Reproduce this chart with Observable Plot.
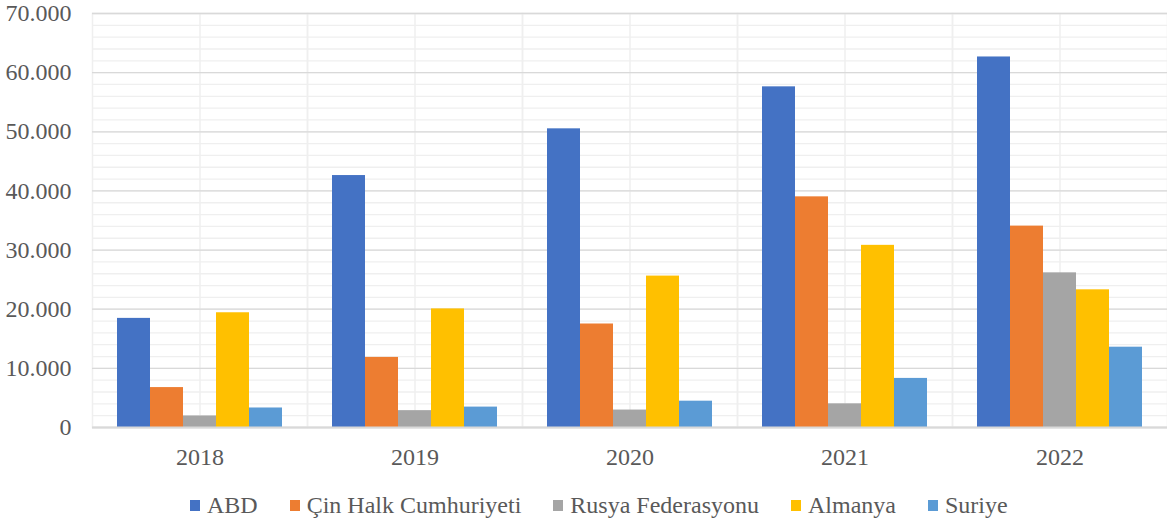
<!DOCTYPE html>
<html>
<head>
<meta charset="utf-8">
<script src="https://cdn.jsdelivr.net/npm/d3@7"></script>
<script src="https://cdn.jsdelivr.net/npm/@observablehq/plot@0.6"></script>
<style>
  html, body { margin: 0; padding: 0; background: #fff; }
  body { width: 1167px; height: 527px; overflow: hidden; font-family: "Liberation Serif", "Times New Roman", serif; }
  #legend { display: flex; align-items: center; height: 47px; padding-left: 190px; padding-top: 4px; box-sizing: border-box; font-size: 24px; color: #595959; }
  .item { display: flex; align-items: center; margin-right: 32px; }
  .sw { width: 10px; height: 11px; margin-right: 7px; }
</style>
</head>
<body>
<div id="chart"></div>
<div id="legend"></div>
<script>
const years = ["2018", "2019", "2020", "2021", "2022"];
const series = ["ABD", "Çin Halk Cumhuriyeti", "Rusya Federasyonu", "Almanya", "Suriye"];
const colors = ["#4472C4", "#ED7D31", "#A5A5A5", "#FFC000", "#5B9BD5"];
const abd = [18450, 42600, 50500, 57600, 62650];
const cin = [6750, 11850, 17500, 39000, 34050];
const rusya = [1950, 2850, 2950, 4000, 26150];
const almanya = [19400, 20050, 25600, 30800, 23280];
const suriye = [3300, 3450, 4450, 8300, 13580];
const yTicks = [0, 10000, 20000, 30000, 40000, 50000, 60000, 70000];
const yMinor = d3.range(0, 70001, 2000);

const valuesBySeries = [abd, cin, rusya, almanya, suriye];
const rows = [];
years.forEach((yr, i) => {
  series.forEach((s, j) => rows.push({year: yr, series: s, value: valuesBySeries[j][i]}));
});

const fmt = d3.formatLocale({decimal: ",", thousands: ".", grouping: [3], currency: ["", ""]}).format(",");

const chart = Plot.plot({
  width: 1167,
  height: 480,
  marginTop: 13,
  marginLeft: 92,
  marginRight: 0,
  marginBottom: 53,
  style: {fontFamily: "'Liberation Serif', 'Times New Roman', serif", fontSize: "24px", color: "#595959", background: "#fff"},
  fx: {domain: years, paddingInner: 0, paddingOuter: 0, axis: "bottom", tickSize: 0, tickPadding: 20, label: null},
  x: {domain: series, paddingInner: 0, paddingOuter: 0.72, axis: null},
  y: {domain: [0, 70000], ticks: yTicks, tickFormat: fmt, tickSize: 0, tickPadding: 21, label: null},
  color: {domain: series, range: colors},
  marks: [
    Plot.ruleY(yMinor, {stroke: "#efefef", strokeWidth: 1.3}),
    Plot.frame({stroke: "#efefef", strokeWidth: 1.5}),
    Plot.ruleX([series[Math.floor(series.length / 2)]], {stroke: "#efefef", strokeWidth: 1.5}),
    Plot.ruleY(yTicks, {stroke: "#d9d9d9", strokeWidth: 1.3}),
    Plot.barY(rows, {fx: "year", x: "series", y: "value", fill: "series"}),
    Plot.ruleY([0], {stroke: "#d9d9d9", strokeWidth: 2})
  ]
});
document.getElementById("chart").appendChild(chart);

const legend = document.getElementById("legend");
series.forEach((s, j) => {
  const it = document.createElement("div");
  it.className = "item";
  const sw = document.createElement("div");
  sw.className = "sw";
  sw.style.background = colors[j];
  const t = document.createElement("span");
  t.textContent = s;
  it.appendChild(sw);
  it.appendChild(t);
  legend.appendChild(it);
});
</script>
</body>
</html>
